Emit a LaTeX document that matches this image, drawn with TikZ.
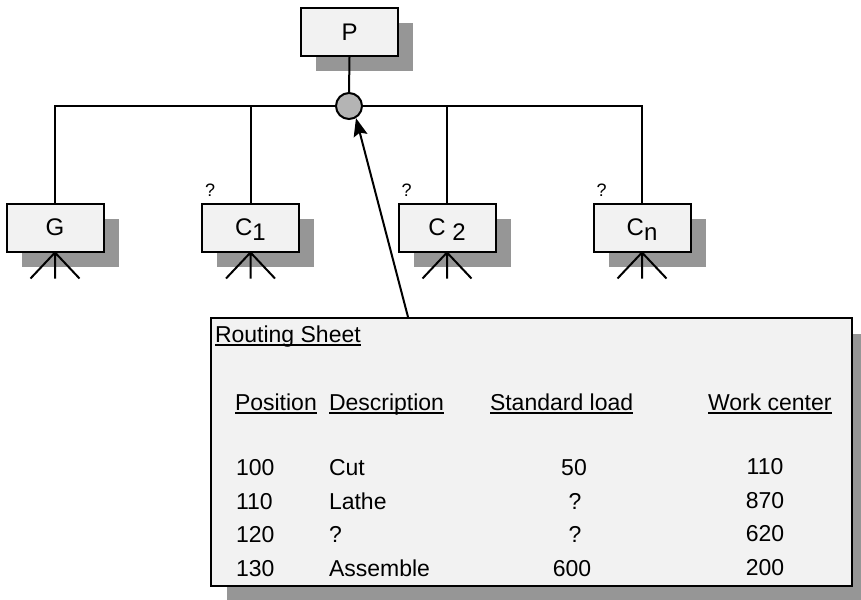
\documentclass[tikz,border=0pt]{standalone}
\usepackage{fontspec}
\setmainfont{Liberation Sans}
\usetikzlibrary{shadows,arrows.meta}
\definecolor{boxfill}{HTML}{F2F2F2}
\definecolor{shadowgray}{HTML}{969696}
\definecolor{joinfill}{HTML}{B4B4B4}
\newcommand{\lowsub}[1]{\raisebox{-5pt}[0pt][0pt]{#1}}
\newcommand{\undl}[1]{\setbox0\hbox{#1}\rlap{\rule[-4pt]{\wd0}{2pt}}\box0}
\begin{document}
\begin{tikzpicture}[x=1pt, y=-1pt, line width=2pt, every node/.style={font=\fontsize{23}{26}\selectfont}]
        \tikzstyle{itembox} = [draw, fill=boxfill, minimum width=97pt, minimum height=48pt, inner sep=0pt,
          font=\fontsize{24}{26}\selectfont,
          drop shadow={shadow xshift=15pt, shadow yshift=-15pt, fill=shadowgray, opacity=1}]
        \tikzstyle{joindot} = [draw, circle, fill=joinfill, minimum size=26pt, inner sep=0pt]
        \tikzstyle{sheetbox} = [draw, fill=boxfill, minimum width=641pt, minimum height=268pt, inner sep=0pt,
          drop shadow={shadow xshift=16pt, shadow yshift=-16pt, fill=shadowgray, opacity=1}]
        \tikzstyle{quest} = [anchor=base west, inner sep=0pt, font=\fontsize{18}{18}\selectfont, xshift=3pt, yshift=6pt]
        \tikzstyle{celltxt} = [anchor=base west, inner sep=0pt]
        \tikzstyle{numtxt} = [anchor=base, inner sep=0pt]
        \useasboundingbox (0,0) rectangle (861,599);
        % product structure
        \node[itembox] (P) at (349.5, 32) {P};
        \node[joindot] (J) at (349, 106) {};
        \node[itembox] (G) at (55, 227.5) {G};
        \node[itembox] (C1) at (250.5, 227.5) {C\lowsub{1}};
        \node[itembox] (C2) at (447, 227.5) {C \lowsub{2}};
        \node[itembox] (Cn) at (642, 227.5) {C\lowsub{n}};
        \node[quest] (q1) at (C1.north west) {?};
        \node[quest] (q2) at (C2.north west) {?};
        \node[quest] (qn) at (Cn.north west) {?};
        \draw (P.south) -- (J.north);
        \draw (G.north) |- (J.west);
        \draw (J.east) -| (Cn.north);
        \draw (C1.north) -- (C1.north |- J);
        \draw (C2.north) -- (C2.north |- J);
        \foreach \b in {G, C1, C2, Cn}
          \draw (\b.south) -- ++(-24.5, 26) (\b.south) -- ++(0, 26) (\b.south) -- ++(24.5, 26);
        % routing sheet
        \node[sheetbox] (RS) at (531.5, 452) {};
        \node[celltxt] (title) at (214, 342) {\undl{Routing Sheet}};
        \node[celltxt] (hpos) at (234, 410) {\undl{Position}};
        \node[celltxt] (hdesc) at (328, 410) {\undl{Description}};
        \node[celltxt] (hload) at (489, 410) {\undl{Standard load}};
        \node[celltxt] (hwc) at (707, 410) {\undl{Work center}};
        \node[celltxt] (p1) at (235, 475) {100};
        \node[celltxt] (d1) at (328, 475) {Cut};
        \node[numtxt] (l1) at (574, 475) {50};
        \node[numtxt] (w1) at (765, 474) {110};
        \node[celltxt] (p2) at (235, 509) {110};
        \node[celltxt] (d2) at (328, 509) {Lathe};
        \node[numtxt] (l2) at (575, 509) {?};
        \node[numtxt] (w2) at (765, 508) {870};
        \node[celltxt] (p3) at (235, 542) {120};
        \node[celltxt] (d3) at (328, 542) {?};
        \node[numtxt] (l3) at (575, 542) {?};
        \node[numtxt] (w3) at (765, 541) {620};
        \node[celltxt] (p4) at (235, 576) {130};
        \node[celltxt] (d4) at (328, 576) {Assemble};
        \node[numtxt] (l4) at (572, 576) {600};
        \node[numtxt] (w4) at (765, 575) {200};
        \coordinate (tail) at (408, 317);
        \draw[->, >={Stealth[length=18pt, width=14pt, inset=3pt]}] (tail) -- (J.-60);
      \end{tikzpicture}
\end{document}
